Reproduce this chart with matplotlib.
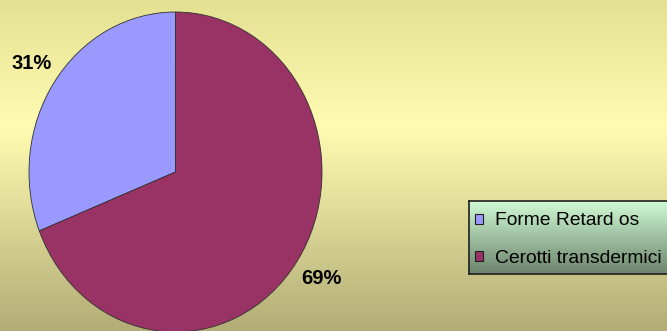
import numpy as np
import matplotlib.pyplot as plt
from matplotlib.patches import Rectangle

labels = ['Forme Retard os', 'Cerotti transdermici']
values = [31, 69]
colors = ['#9999FF', '#993366']

W, H = 667, 331
fig = plt.figure(figsize=(W / 100, H / 100), dpi=100)


def px_axes(x0, y0, x1, y1):
    # axes from pixel box (top-left origin)
    return fig.add_axes([x0 / W, 1 - y1 / H, (x1 - x0) / W, (y1 - y0) / H])


# background: vertical yellow gradient
bg = fig.add_axes([0, 0, 1, 1], zorder=-10)
t = np.linspace(0, 1, 256)[:, None]
top = np.array([228, 224, 146]) / 255
mid = np.array([255, 252, 178]) / 255
bot = np.array([178, 173, 118]) / 255
grad = np.where(t < 0.38,
                top + (mid - top) * (t / 0.38),
                mid + (bot - mid) * ((t - 0.38) / 0.62))
bg.imshow(grad.reshape(256, 1, 3), aspect='auto', extent=[0, 1, 0, 1])
bg.set_axis_off()

# pie
ax = px_axes(29, 12, 322, 332)
wedges, _ = ax.pie(values, colors=colors, startangle=90, counterclock=True,
                   wedgeprops=dict(edgecolor='#303030', linewidth=0.6))
ax.set_aspect('auto')
ax.set_xlim(-1, 1)
ax.set_ylim(-1, 1)

lab_font = dict(fontsize=14.5, fontweight='bold', color='black',
                family='Liberation Sans', ha='center', va='center')
fig.text(31.7 / W, 1 - 63.5 / H, f'{values[0]}%', **lab_font)
fig.text(321.7 / W, 1 - 279 / H, f'{values[1]}%', **lab_font)

# legend box with green-grey gradient
lax = px_axes(469, 201, 672, 274)
lg_top = np.array([208, 250, 212]) / 255
lg_bot = np.array([108, 132, 108]) / 255
lgrad = lg_top + (lg_bot - lg_top) * t
lax.imshow(lgrad.reshape(256, 1, 3), aspect='auto', extent=[0, 1, 0, 1])
lax.set_xticks([])
lax.set_yticks([])
for s in lax.spines.values():
    s.set_color('#202020')
    s.set_linewidth(1.2)

handles = [Rectangle((0, 0), 1, 1, facecolor=c, edgecolor='#202020', linewidth=0.8)
           for c in colors]
leg = lax.legend(handles, labels, loc='center left', bbox_to_anchor=(0.03, 0.47),
                 frameon=False, handlelength=0.42, handleheight=0.42,
                 handletextpad=0.6, labelspacing=1.06, borderaxespad=0.0,
                 borderpad=0.0, prop=dict(family='Liberation Sans', size=13.9))

fig.savefig('out.png', dpi=100)
